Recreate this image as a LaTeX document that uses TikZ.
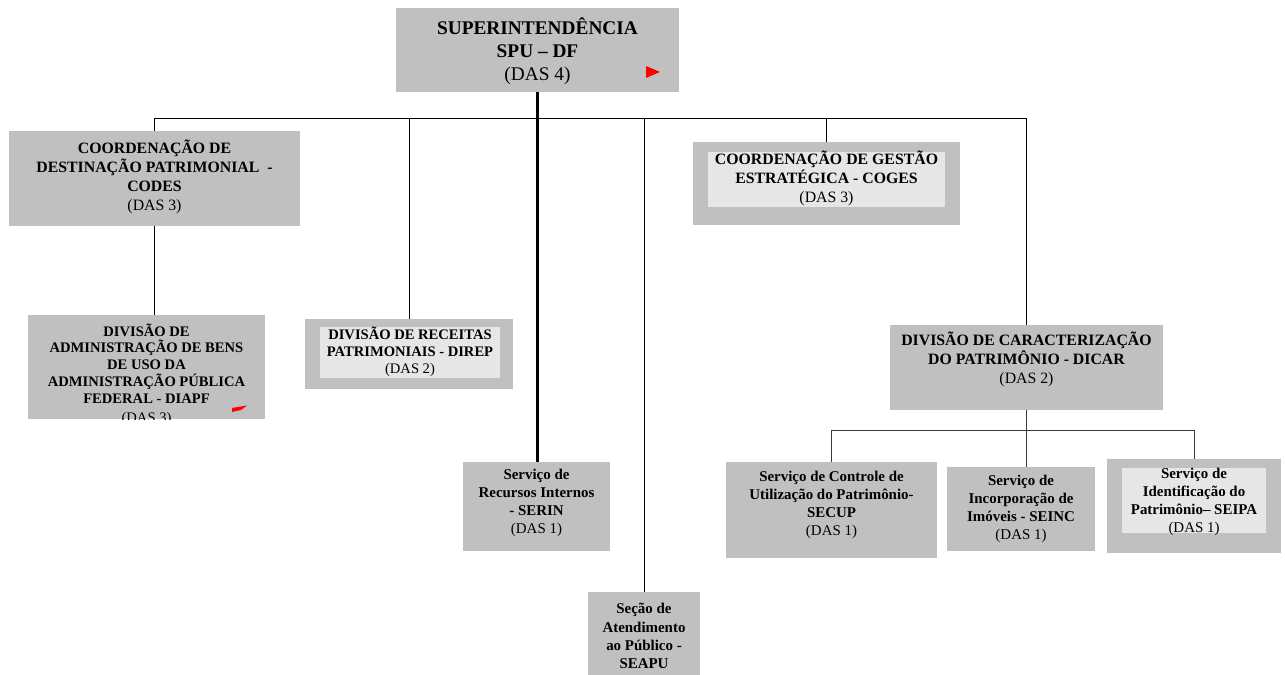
\documentclass[tikz,border=0pt]{standalone}
\usepackage{fontspec}
\setmainfont{Liberation Serif}
\definecolor{boxgray}{HTML}{C0C0C0}
\definecolor{innergray}{HTML}{E6E6E6}
\definecolor{wiregray}{HTML}{3A3A3A}

\begin{document}
\begin{tikzpicture}[x=0.02cm, y=-0.02cm, line width=0.55pt]
                % 0. Styles
                \tikzstyle{Box}   = [fill=boxgray, inner sep=0pt]
                \tikzstyle{Inner} = [fill=innergray, inner sep=0pt]
                \tikzstyle{Txt}   = [align=center, inner sep=0pt, text=black]
                \tikzstyle{Big}   = [Txt, font=\fontsize{11}{13}\selectfont\bfseries]
                \tikzstyle{Mid}   = [Txt, font=\fontsize{9}{10.8}\selectfont\bfseries]
                \tikzstyle{Small} = [Txt, font=\fontsize{8.3}{9.6}\selectfont\bfseries]
                \tikzstyle{Serv}  = [Txt, font=\fontsize{8.5}{10.3}\selectfont\bfseries]
                \useasboundingbox[fill=white] (0,0) rectangle (1285,675);

                % 1. Boxes
                \node[Box, minimum width=5.66cm, minimum height=1.68cm] (Sup)   at (537.5,50)   {};
                \node[Box, minimum width=5.82cm, minimum height=1.90cm] (Codes) at (154.5,178.5) {};
                \node[Box, minimum width=4.74cm, minimum height=2.08cm] (Diapf) at (146.5,367)   {};
                \node[Box, minimum width=4.16cm, minimum height=1.40cm] (Direp) at (409,354)     {};
                \node[Inner, minimum width=3.60cm, minimum height=1.02cm] (DirepIn) at (410,352.5) {};
                \node[Box, minimum width=5.34cm, minimum height=1.66cm] (Coges) at (826.5,183.5) {};
                \node[Inner, minimum width=4.74cm, minimum height=1.10cm] (CogesIn) at (826.5,179.5) {};
                \node[Box, minimum width=5.46cm, minimum height=1.70cm] (Dicar) at (1026.5,367.5) {};
                \node[Box, minimum width=2.94cm, minimum height=1.78cm] (Serin) at (536.5,506.5) {};
                \node[Box, minimum width=2.24cm, minimum height=1.66cm] (Seapu) at (644,633.5)   {};
                \node[Box, minimum width=4.22cm, minimum height=1.92cm] (Secup) at (831.5,510)   {};
                \node[Box, minimum width=2.96cm, minimum height=1.68cm] (Seinc) at (1021,509)    {};
                \node[Box, minimum width=3.48cm, minimum height=1.88cm] (Seipa) at (1194,506)    {};
                \node[Inner, minimum width=2.88cm, minimum height=1.30cm] (SeipaIn) at (1194,500.5) {};

                % 2. Texts
                \node[Big] (SupText) at (537.5,51) {SUPERINTENDÊNCIA\\SPU – DF\\{\mdseries (DAS 4)}};
                \node[Mid] (CodesText) at (154.5,177) {COORDENAÇÃO DE\\DESTINAÇÃO PATRIMONIAL~~-\\CODES\\{\mdseries (DAS 3)}};
                \begin{scope}
                  \clip (Diapf.south west) rectangle (Diapf.north east);
                  \node[Small, anchor=north] (DiapfText) at (146.5,323) {DIVISÃO DE\\ADMINISTRAÇÃO DE BENS\\DE USO DA\\ADMINISTRAÇÃO PÚBLICA\\FEDERAL - DIAPF\\[1.5pt]{\mdseries (DAS 3)}};
                \end{scope}
                \node[Small] (DirepText) at (410,352) {DIVISÃO DE RECEITAS\\PATRIMONIAIS - DIREP\\{\mdseries (DAS 2)}};
                \node[Mid] (CogesText) at (826.5,178) {COORDENAÇÃO DE GESTÃO\\ESTRATÉGICA - COGES\\{\mdseries (DAS 3)}};
                \node[Mid] (DicarText) at (1026.5,359) {DIVISÃO DE CARACTERIZAÇÃO\\DO PATRIMÔNIO - DICAR\\{\mdseries (DAS 2)}};
                \node[Serv] (SerinText) at (536.5,503) {Serviço de\\Recursos Internos\\- SERIN\\{\mdseries (DAS 1)}};
                \node[Serv] (SeapuText) at (644,636) {Seção de\\Atendimento\\ao Público -\\SEAPU};
                \node[Serv] (SecupText) at (831.5,505) {Serviço de Controle de\\Utilização do Patrimônio-\\SECUP\\{\mdseries (DAS 1)}};
                \node[Serv] (SeincText) at (1021,509) {Serviço de\\Incorporação de\\Imóveis - SEINC\\{\mdseries (DAS 1)}};
                \node[Serv] (SeipaText) at (1194,502) {Serviço de\\Identificação do\\Patrimônio– SEIPA\\{\mdseries (DAS 1)}};

                % 3. Bus coordinates
                \coordinate (TopBus) at (0,118);
                \coordinate (SubBus) at (0,430);

                % 4. Connectors
                \draw[line width=1.5pt] (Sup.south) -- (Sup.south |- Serin.north); % main line
                \draw (Codes.north |- TopBus) -- (Dicar.north |- TopBus);          % top bus
                \draw (Codes.north |- TopBus) -- (Codes.north);
                \draw (Direp.north |- TopBus) -- (Direp.north);
                \draw (Seapu.north |- TopBus) -- (Seapu.north);
                \draw (Coges.north |- TopBus) -- (Coges.north);
                \draw (Dicar.north |- TopBus) -- (Dicar.north);
                \draw (Codes.south) -- (Codes.south |- Diapf.north);
                \draw[wiregray] (Dicar.south) -- (Dicar.south |- Seinc.north);
                \draw[wiregray] (Secup.north) -- (Secup.north |- SubBus) -- (Seipa.north |- SubBus) -- (Seipa.north);

                % 5. Red markers
                \fill[red] (646,66) -- (660,72) -- (646,78) -- cycle;
                \fill[red] (232,408) -- (247,405.5) -- (241,410) -- (232,412) -- cycle;

            \end{tikzpicture}
\end{document}
